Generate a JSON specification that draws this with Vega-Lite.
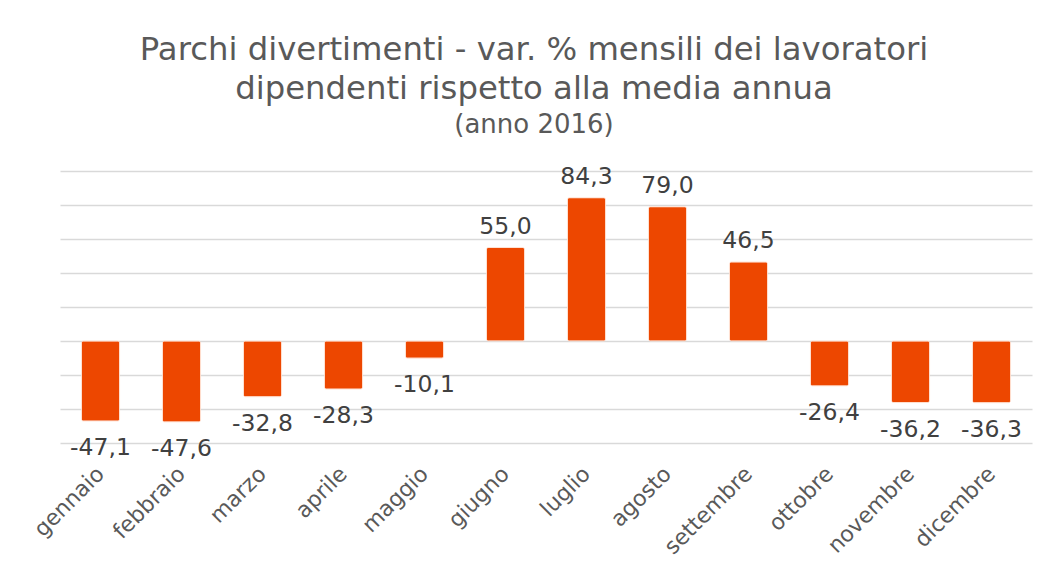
{
  "$schema": "https://vega.github.io/schema/vega-lite/v6.json",
  "width": 972,
  "height": 272,
  "autosize": {"type": "none"},
  "padding": {"left": 60, "top": 171, "right": 20, "bottom": 136},
  "background": "white",
  "config": {
    "font": "DejaVu Sans",
    "view": {"stroke": null},
    "locale": {"number": {"decimal": ",", "thousands": ".", "grouping": [3], "currency": ["€", ""], "minus": "-"}}
  },
  "title": {
    "text": ["Parchi divertimenti - var. % mensili dei lavoratori", "dipendenti rispetto alla media annua"],
    "subtitle": "(anno 2016)",
    "fontSize": 32.3,
    "fontWeight": "normal",
    "color": "#595959",
    "lineHeight": 39,
    "subtitleColor": "#595959",
    "subtitleFontSize": 26,
    "subtitleFont": "DejaVu Sans",
    "subtitlePadding": 6,
    "anchor": "middle",
    "frame": "group",
    "dx": -12,
    "offset": 27
  },
  "data": {
    "values": [
      {"mese": "gennaio", "var": -47.1},
      {"mese": "febbraio", "var": -47.6},
      {"mese": "marzo", "var": -32.8},
      {"mese": "aprile", "var": -28.3},
      {"mese": "maggio", "var": -10.1},
      {"mese": "giugno", "var": 55.0},
      {"mese": "luglio", "var": 84.3},
      {"mese": "agosto", "var": 79.0},
      {"mese": "settembre", "var": 46.5},
      {"mese": "ottobre", "var": -26.4},
      {"mese": "novembre", "var": -36.2},
      {"mese": "dicembre", "var": -36.3}
    ]
  },
  "encoding": {
    "x": {
      "field": "mese",
      "type": "nominal",
      "sort": null,
      "scale": {"paddingInner": 0.53, "paddingOuter": 0.265},
      "axis": {
        "title": null,
        "labelAngle": -45,
        "labelAlign": "right",
        "labelBaseline": "middle",
        "labelFontSize": 22,
        "labelColor": "#595959",
        "labelPadding": 27,
        "domain": false,
        "ticks": false,
        "grid": false
      }
    },
    "y": {
      "field": "var",
      "type": "quantitative",
      "scale": {"domain": [-60, 100], "nice": false},
      "axis": {
        "title": null,
        "values": [-60, -40, -20, 0, 20, 40, 60, 80, 100],
        "labels": false,
        "ticks": false,
        "domain": false,
        "gridColor": "#D9D9D9",
        "gridWidth": 1.3
      }
    }
  },
  "layer": [
    {
      "mark": {"type": "bar", "color": "#ED4700", "stroke": "#FFE0D0", "strokeWidth": 0.8, "cornerRadius": 2}
    },
    {
      "transform": [{"filter": "datum['var'] >= 0"}],
      "mark": {"type": "text", "fontSize": 23.5, "color": "#404040", "baseline": "alphabetic", "dy": -14},
      "encoding": {"text": {"field": "var", "type": "quantitative", "format": ".1f"}}
    },
    {
      "transform": [{"filter": "datum['var'] < 0"}],
      "mark": {"type": "text", "fontSize": 23.5, "color": "#404040", "baseline": "alphabetic", "dy": 34},
      "encoding": {"text": {"field": "var", "type": "quantitative", "format": ".1f"}}
    }
  ]
}
